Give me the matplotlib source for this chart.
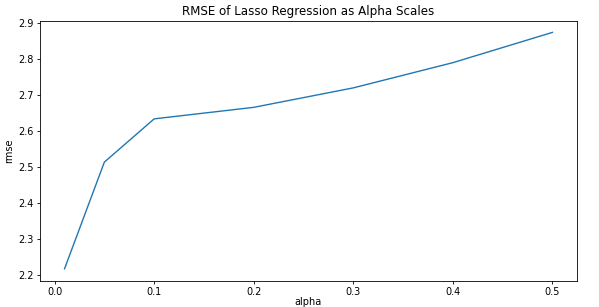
import matplotlib
matplotlib.use("Agg")
import matplotlib.pyplot as plt

alphas = [0.01, 0.05, 0.1, 0.2, 0.3, 0.4, 0.5]
rmse = [2.217, 2.513, 2.633, 2.665, 2.719, 2.789, 2.873]

fig = plt.figure(figsize=(5.99, 3.07), dpi=100)
ax = fig.add_axes([0.067, 0.086, 0.896, 0.847])
ax.plot(alphas, rmse, linewidth=1.0)
ax.set_title("RMSE of Lasso Regression as Alpha Scales", fontsize=8.6, pad=4)
ax.set_xlabel("alpha", fontsize=7, labelpad=0)
ax.set_ylabel("rmse", fontsize=7, labelpad=3)
ax.tick_params(labelsize=7, length=2.5, width=0.6, pad=2)
for s in ax.spines.values():
    s.set_linewidth(0.6)
fig.savefig("out.png", dpi=100)
